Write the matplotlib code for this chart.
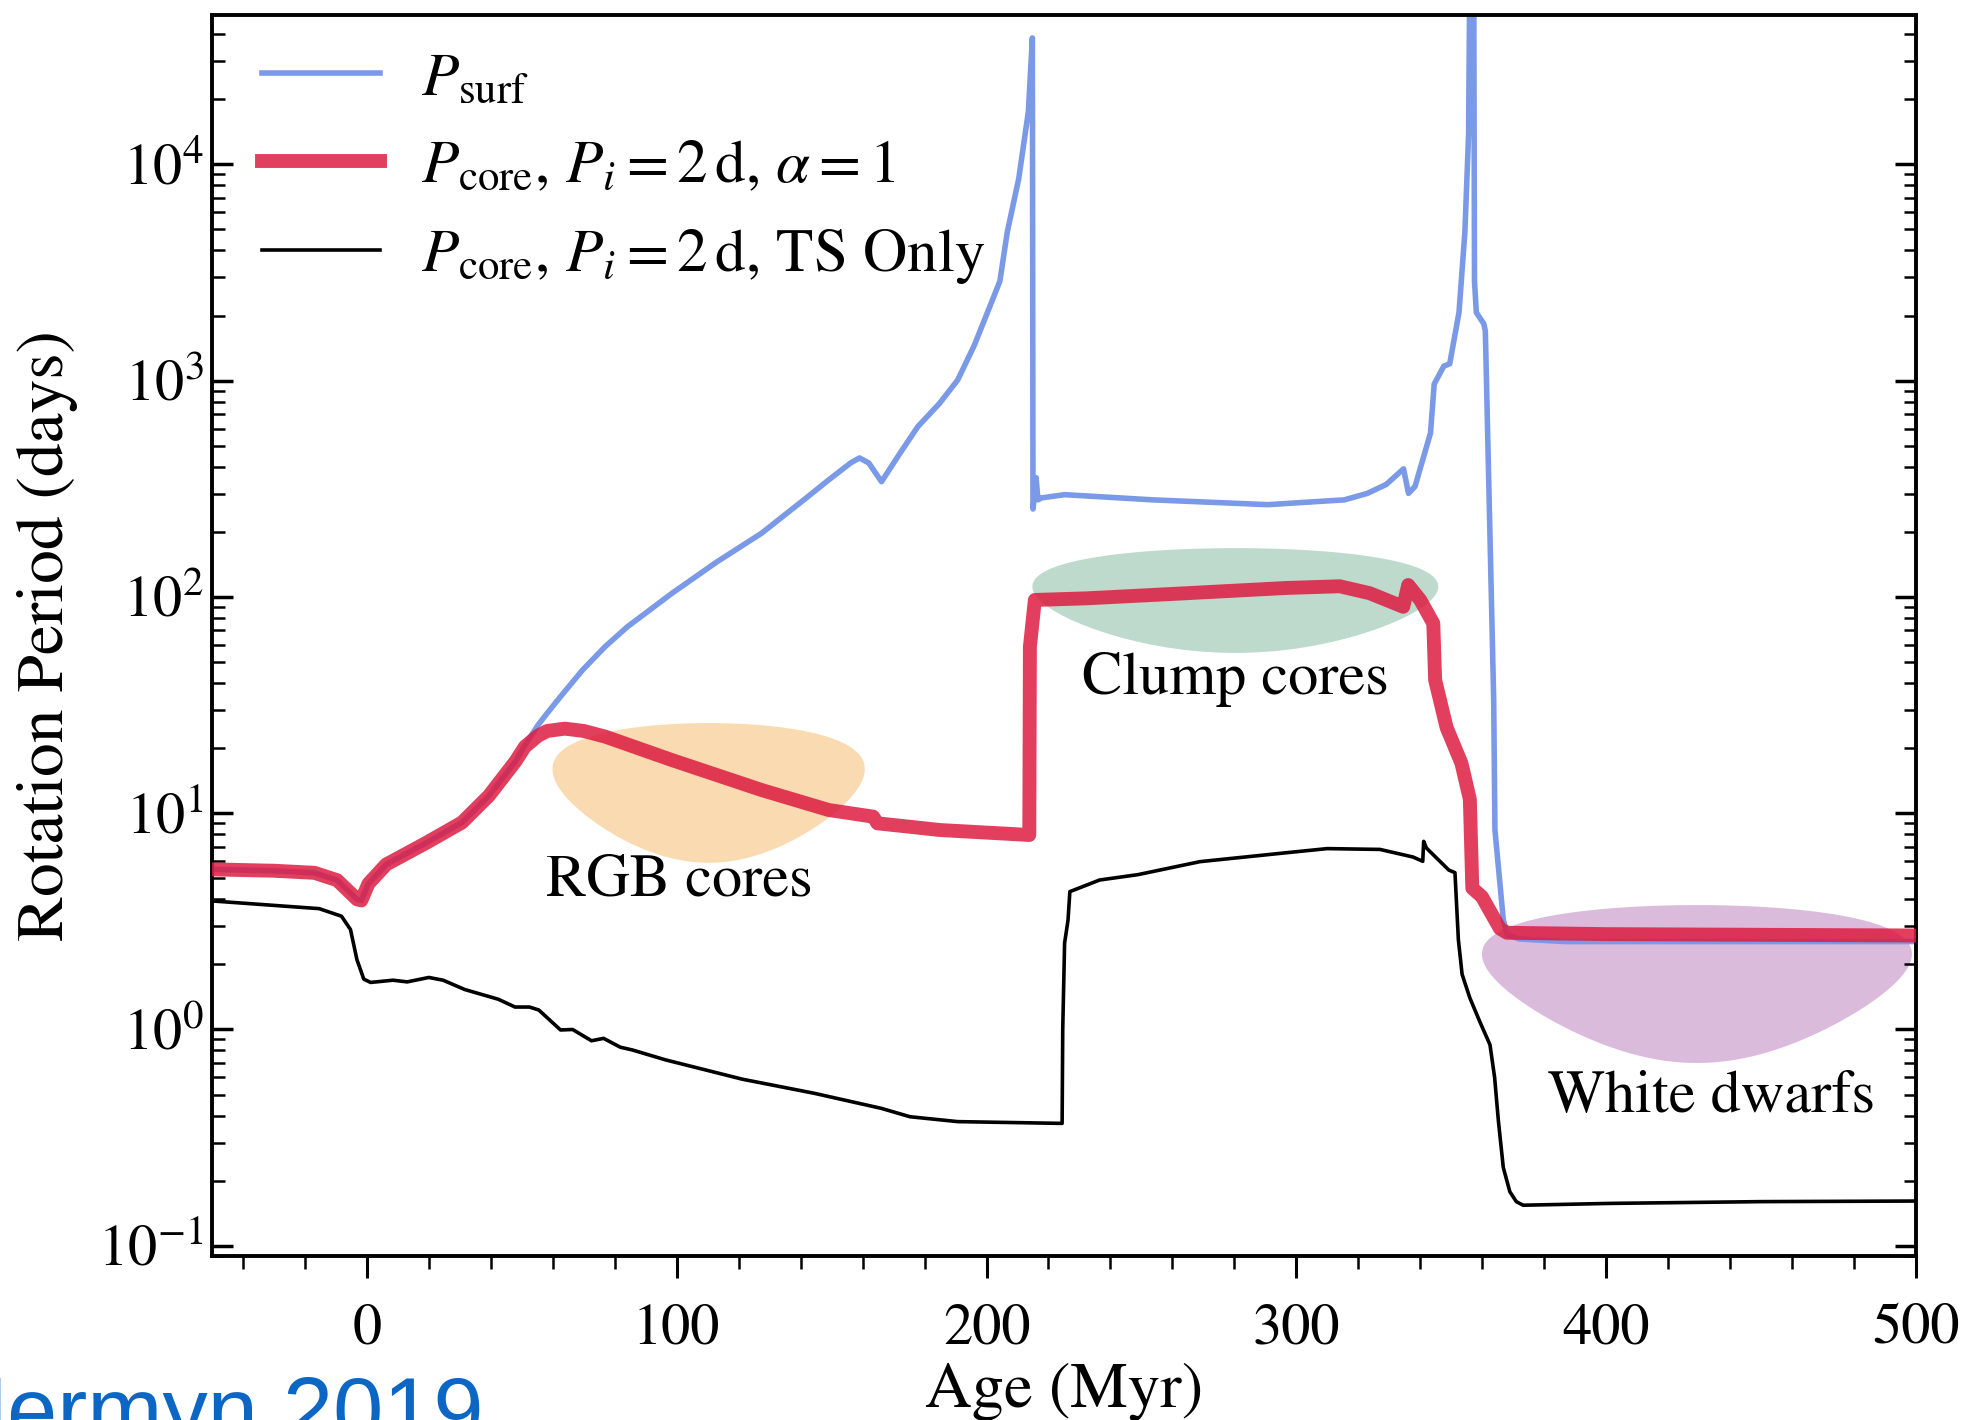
import numpy as np
import matplotlib
matplotlib.use("Agg")
import matplotlib.pyplot as plt
from matplotlib.ticker import LogLocator, MultipleLocator, NullFormatter

plt.rcParams['font.family'] = ['STIXGeneral', 'DejaVu Serif']
plt.rcParams['mathtext.fontset'] = 'stix'

# surface rotation period
age_surf = [-50, -30, -16.9, -9.6, -3.2, -1.8, 0.5, 6.2, 19.2, 30.7, 39.4, 48, 51,
            55.2, 58.2, 62.5, 69.6, 76.9, 84.1, 98.5, 112.9, 127.4, 141.7, 149, 156.2,
            159, 162, 166.1, 172, 177.8, 184.9, 190.7, 196, 200.5, 204.3, 206.7, 210.4,
            213.5, 214.8, 215.0, 215.2, 216.0, 216.6, 217.8, 225.2, 253.7, 290.8,
            315.5, 322.9, 329, 334.6, 336.2, 338.3, 343.3, 344.5, 347.6, 349.5, 352.5,
            354.4, 355.6, 356.2, 357.2, 357.5, 358.1, 360.5, 361.0, 363.7, 364.1,
            366.8, 368, 372, 386.6, 450, 500]
p_surf = [5.5, 5.42, 5.3, 4.9, 4.0, 3.95, 4.72, 5.79, 7.3, 9.06, 12.05, 17.4, 20.6,
          25.5, 29, 34.6, 45.9, 58.9, 72.8, 104, 145, 197, 286, 347, 417,
          439, 416, 341, 460, 612, 787, 1007, 1450, 2100, 2880, 4860, 8590,
          17500, 38400, 255, 270, 356, 281, 287, 297, 281, 267,
          281, 301, 331, 391, 301, 324, 572, 964, 1167, 1196, 2065,
          4860, 13800, 2e5, 2e5, 2880, 2065, 1832, 1700, 33.4, 8.37,
          3.22, 2.75, 2.62, 2.55, 2.55, 2.55]

# core rotation period, alpha = 1
age_core = [-50, -30, -16.9, -9.6, -3.2, -1.8, 0.5, 6.2, 19.2, 30.7, 39.4, 48, 51,
            55.2, 58.2, 63.9, 70, 76.9, 98.5, 127.4, 149, 163.4, 164.8, 185, 213.8,
            214.0, 215.6, 232.3, 264.5, 296.8, 314, 323.7, 334.5, 336.1, 340, 344.2,
            344.8, 348.5, 353.3, 356, 356.8, 359.9, 365.7, 368, 400, 450, 500]
p_core = [5.5, 5.42, 5.3, 4.9, 4.0, 3.95, 4.72, 5.79, 7.3, 9.06, 12.05, 17.4, 20.3,
          22.8, 24.0, 24.6, 24.0, 22.6, 17.6, 12.8, 10.35, 9.64, 8.98, 8.36, 7.93,
          58.9, 96.8, 98.5, 104, 110, 112, 104, 90, 113.5, 96.8, 75.5,
          41.3, 24.9, 17, 11.6, 4.5, 4.11, 2.93, 2.8, 2.76, 2.74, 2.72]

# core rotation period, Tayler-Spruit only
age_ts = [-50, -15.4, -8.2, -5.3, -3.2, -1.0, 1.2, 8.4, 13, 20, 24.6, 31.6, 42.4,
          47.8, 52.5, 55.5, 62.5, 66.4, 72.5, 76.4, 81.8, 85.7, 96.5, 121.2, 144.4,
          166, 175.3, 190.7, 224.4, 224.6, 225.2, 226.3, 226.9, 236.5, 248.9, 268.9,
          297.9, 310, 327, 337.7, 340.8, 341.1, 342, 349.2, 351.2, 352.3, 353.5,
          356, 359.3, 362.5, 364, 365.2, 366.8, 368.9, 371, 373.2, 401, 450, 500]
p_ts = [3.93, 3.62, 3.34, 2.9, 2.1, 1.71, 1.65, 1.69, 1.66, 1.74, 1.69, 1.53, 1.38,
        1.27, 1.27, 1.23, 0.995, 1.0, 0.887, 0.91, 0.828, 0.804, 0.723, 0.589, 0.507,
        0.432, 0.395, 0.375, 0.368, 1.0, 2.51, 3.2, 4.34, 4.91, 5.2, 5.97,
        6.59, 6.86, 6.8, 6.27, 5.99, 7.41, 6.9, 5.46, 5.31, 2.6, 1.8,
        1.4, 1.08, 0.85, 0.6, 0.38, 0.23, 0.178, 0.16, 0.154, 0.157, 0.160, 0.161]

# shaded regions: name, centre age, half width, centre period, half height, colour
region_names = ['RGB cores', 'Clump cores', 'White dwarfs']
region_x = [110.3, 280.3, 429.3]
region_dx = [50.4, 65.5, 69.4]
region_y = [16.0, 111.6, 2.23]
region_dy = [10.1, 56.5, 1.53]
region_colors = ['#fadab0', '#bedacc', '#dbbbdc']
label_x = [100.9, 280.3, 433.9]
label_y = [4.86, 41.7, 0.482]

fig = plt.figure(figsize=(19.83, 14.20), dpi=100)
ax = fig.add_axes([0.1069, 0.1155, 0.8593, 0.8739])

t = np.linspace(0, 2 * np.pi, 400)
for i in range(len(region_names)):
    ex = region_x[i] + region_dx[i] * np.cos(t)
    ey = region_y[i] + region_dy[i] * np.sin(t)
    ax.fill(ex, ey, color=region_colors[i], lw=0, zorder=1)
    ax.text(label_x[i], label_y[i], region_names[i], fontsize=43.5,
            ha='center', va='center', zorder=5)

ax.plot(age_surf, p_surf, color='#7a99e6', lw=4, zorder=2, label=r'$P_{\rm surf}$')
ax.plot(age_core, p_core, color='#dd1c42', lw=10, alpha=0.85, zorder=3,
        solid_joinstyle='round',
        label=r'$P_{\rm core}$, $P_i = 2\,{\rm d}$, $\alpha = 1$')
ax.plot(age_ts, p_ts, color='black', lw=2.6, zorder=3,
        label=r'$P_{\rm core}$, $P_i = 2\,{\rm d}$, TS Only')

ax.set_yscale('log')
ax.set_xlim(-50, 500)
ax.set_ylim(0.0897, 4.9e4)

ax.xaxis.set_major_locator(MultipleLocator(100))
ax.xaxis.set_minor_locator(MultipleLocator(20))
ax.yaxis.set_major_locator(LogLocator(base=10, numticks=20))
ax.yaxis.set_minor_locator(LogLocator(base=10, subs=np.arange(2, 10), numticks=20))
ax.yaxis.set_minor_formatter(NullFormatter())

ax.tick_params(axis='x', which='both', direction='out', top=False, labelsize=42, pad=18)
ax.tick_params(axis='x', which='major', length=16, width=2.2)
ax.tick_params(axis='x', which='minor', length=9, width=1.8)
ax.tick_params(axis='y', which='both', direction='in', left=True, right=True,
               labelsize=42, pad=6)
ax.tick_params(axis='y', which='major', length=15, width=2.5)
ax.tick_params(axis='y', which='minor', length=9, width=1.8)
for s in ax.spines.values():
    s.set_linewidth(2.8)

ax.set_xlabel('Age (Myr)', fontsize=46.5)
ax.set_ylabel('Rotation Period (days)', fontsize=48.5)
ax.xaxis.set_label_coords(0.5, -0.0854)
ax.yaxis.set_label_coords(-0.0786, 0.5)

ax.legend(loc='upper left', bbox_to_anchor=(0.015, 0.99), borderaxespad=0,
          frameon=False, fontsize=44, handlelength=1.93, handletextpad=0.67,
          labelspacing=0.52)

fig.text(-0.019, -0.0145, 'Jermyn 2019', fontsize=65, color='#0b66c4',
         family='Liberation Sans', ha='left', va='baseline')

fig.savefig('out.png', dpi=100)
